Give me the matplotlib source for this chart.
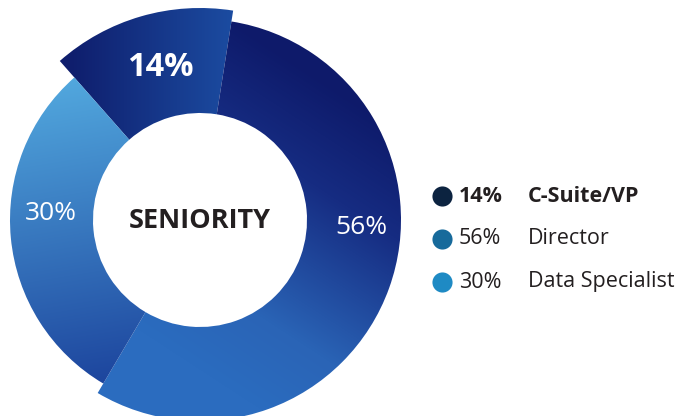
import numpy as np
import matplotlib
matplotlib.use("Agg")
import matplotlib.pyplot as plt
from matplotlib.colors import to_rgb

# ---- data ----
categories = ["C-Suite/VP", "Director", "Data Specialist"]
values = [14, 56, 30]
center_title = "SENIORITY"

# ---- style ----
W, H = 684, 416
FONT = "Open Sans"
plt.rcParams['font.family'] = [FONT, 'DejaVu Sans']

cx, cy_pix = 200, 220
outer_r = [212, 201, 190]
inner_r = 107
grads = [  # (p0 pixel, p1 pixel, stops)
    ((70, 60), (230, 60), [(0, "#0f1e6d"), (1, "#1b4ba0")]),
    ((400, 130), (230, 390), [(0, "#0e1a6a"), (0.3, "#162c82"),
                              (0.75, "#2a64b6"), (1, "#2b6cbf")]),
    ((60, 80), (110, 385), [(0, "#52a8de"), (1, "#1c449d")]),
]
label_pos = [(160, 68), (361, 228), (51, 214)]
label_bold = [True, False, False]
label_size = [23.5, 19, 19]
legend_colors = ["#0c2340", "#176a9b", "#1e8ac4"]
text_color = "#231f20"

fig = plt.figure(figsize=(W / 100, H / 100), dpi=100)
ax = fig.add_axes([0, 0, 1, 1])

def py(y):
    return H - y

wedges, _ = ax.pie(values, startangle=90 + 41.4, counterclock=False,
                   center=(cx, py(cy_pix)), radius=1,
                   wedgeprops=dict(width=1, linewidth=0))

X, Y = np.meshgrid(np.linspace(0, W, W), np.linspace(0, H, H))
for w, r, (p0, p1, stops) in zip(wedges, outer_r, grads):
    w.set_radius(r)
    w.set_width(r - inner_r)
    w.set_facecolor("none")
    w.set_edgecolor("none")
    x0, y0 = p0[0], py(p0[1])
    x1, y1 = p1[0], py(p1[1])
    dx, dy = x1 - x0, y1 - y0
    t = ((X - x0) * dx + (Y - y0) * dy) / (dx * dx + dy * dy)
    t = np.clip(t, 0, 1)
    pos = [s[0] for s in stops]
    cols = np.array([to_rgb(s[1]) for s in stops])
    img = np.stack([np.interp(t, pos, cols[:, k]) for k in range(3)], axis=-1)
    im = ax.imshow(img, extent=(0, W, 0, H), origin="lower",
                   interpolation="bilinear", aspect="auto", zorder=1)
    im.set_clip_path(w)

for v, (lx, ly), b, s in zip(values, label_pos, label_bold, label_size):
    ax.text(lx, py(ly), f"{v}%", color="white", fontsize=s,
            fontweight="bold" if b else "normal", ha="center", va="center", zorder=3)

ax.text(cx, py(221), center_title, color=text_color, fontsize=19.5,
        fontweight="bold", ha="center", va="center", zorder=3)

# legend
leg_y = [196, 239, 282]
for i, (cat, v, col, ly) in enumerate(zip(categories, values, legend_colors, leg_y)):
    ax.scatter([442], [py(ly)], s=210, color=col, zorder=3, linewidths=0)
    fw = "bold" if i == 0 else "normal"
    ax.text(459, py(ly), f"{v}%", color=text_color, fontsize=15.5, fontweight=fw,
            ha="left", va="center")
    ax.text(528, py(ly), cat, color=text_color, fontsize=15.5, fontweight=fw,
            ha="left", va="center")

ax.set_xlim(0, W)
ax.set_ylim(0, H)
ax.set_aspect("auto")
ax.axis("off")
fig.savefig("out.png", dpi=100)
